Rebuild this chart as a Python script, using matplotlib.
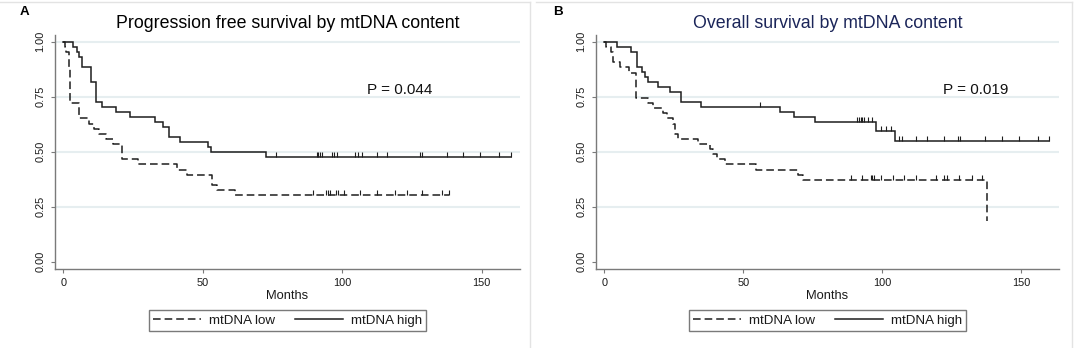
import numpy as np
import matplotlib
matplotlib.use('Agg')
import matplotlib.pyplot as plt
from matplotlib.path import Path
from matplotlib.lines import Line2D

plt.rcParams['font.family'] = ['Liberation Sans', 'DejaVu Sans']

# ---------------- data ----------------
pfs_high_t = [0, 3.6, 4.8, 5.6, 6.6, 9.8, 11.7, 13.8, 18.9, 24.0, 32.9, 35.9, 37.9, 42.0, 51.8, 53.0, 72.7]
pfs_high_s = [1.0, 0.977, 0.955, 0.932, 0.886, 0.818, 0.727, 0.705, 0.682, 0.659, 0.636, 0.614, 0.568, 0.545, 0.523, 0.500, 0.477]
pfs_high_end = 160.5
pfs_high_cens = [76.1, 90.8, 91.4, 92.0, 92.6, 96.2, 97.1, 98.0, 104.6, 105.8, 107.0, 112.4, 116.0,
                 127.9, 128.5, 137.5, 143.4, 149.4, 156.3, 160.5]

pfs_low_t = [0, 0.5, 1.0, 2.0, 2.5, 5.6, 9.3, 11.0, 12.9, 15.3, 17.9, 20.9, 26.9, 40.6, 44.2, 53.4, 55.0, 61.5]
pfs_low_s = [1.0, 0.977, 0.953, 0.884, 0.721, 0.651, 0.628, 0.605, 0.581, 0.558, 0.535, 0.465, 0.442,
             0.419, 0.395, 0.349, 0.326, 0.302]
pfs_low_end = 138.4
pfs_low_cens = [89.6, 94.2, 94.8, 95.6, 97.8, 98.4, 100.5, 106.4, 112.6, 118.8, 123.1, 128.8, 135.8, 138.4]

os_high_t = [0, 4.7, 9.6, 11.6, 13.4, 14.6, 15.6, 19.4, 23.7, 27.5, 34.7, 63.4, 68.4, 75.8, 97.7, 104.6]
os_high_s = [1.0, 0.977, 0.955, 0.886, 0.864, 0.841, 0.818, 0.795, 0.773, 0.727, 0.705, 0.682, 0.659,
             0.636, 0.596, 0.547]
os_high_end = 160.1
os_high_cens = [56.2, 91.0, 91.6, 92.2, 92.8, 93.4, 95.0, 96.2, 99.5, 101.3, 103.1, 106.0, 107.0, 112.0,
                116.2, 122.2, 127.4, 128.1, 137.1, 143.1, 149.1, 156.2, 160.1]

os_low_t = [0, 0.5, 2.5, 3.2, 5.6, 8.8, 11.5, 15.8, 17.6, 21.2, 22.4, 24.7, 25.4, 26.5, 33.7, 37.9, 39.1,
            40.5, 43.3, 54.6, 69.6, 71.4, 137.6]
os_low_s = [1.0, 0.977, 0.953, 0.907, 0.884, 0.860, 0.744, 0.721, 0.698, 0.674, 0.651, 0.628, 0.581, 0.558,
            0.535, 0.512, 0.488, 0.465, 0.442, 0.419, 0.395, 0.372, 0.186]
os_low_end = 137.6
os_low_cens = [88.7, 92.9, 95.9, 96.5, 97.1, 99.5, 103.8, 107.8, 112.0, 119.2, 122.2, 123.4, 127.5, 132.3, 135.9]

x_ticks = [0, 50, 100, 150]
y_ticks = [0.0, 0.25, 0.5, 0.75, 1.0]
series_labels = ['mtDNA low', 'mtDNA high']
titles = ['Progression free survival by mtDNA content', 'Overall survival by mtDNA content']
p_texts = ['P = 0.044', 'P = 0.019']
p_pos = [(120.7, 0.78), (133.7, 0.78)]
panel_letters = ['A', 'B']
xlabel = 'Months'

# ---------------- style ----------------
W, H = 1074, 348
fig = plt.figure(figsize=(W / 100, H / 100), dpi=100)

LINE_C = '#1e1e1e'
SPINE_C = '#7a7a7a'
GRID_C = '#e6eef0'
DASH = (0, (5, 2.6))
LW = 1.1

tick_up = Path([(0, 0), (0, 1)], [Path.MOVETO, Path.LINETO])


def px_axes(l, r, t, b):
    return [l / W, 1 - b / H, (r - l) / W, (b - t) / H]


def km(ax, t, s, end, cens, ls):
    x = list(t) + [end]
    y = list(s) + [s[-1]]
    ax.plot(x, y, drawstyle='steps-post', color=LINE_C, lw=LW, linestyle=ls,
            solid_joinstyle='miter', zorder=3)
    idx = np.searchsorted(np.array(t), np.array(cens), side='right') - 1
    cy = np.array(s)[idx]
    ax.plot(cens, cy, linestyle='none', marker=tick_up, markersize=7, markeredgewidth=0.8,
            color=LINE_C, zorder=3)


panels = [
    dict(rect=(55, 519.5), curves=[(pfs_low_t, pfs_low_s, pfs_low_end, pfs_low_cens, DASH),
                                   (pfs_high_t, pfs_high_s, pfs_high_end, pfs_high_cens, '-')],
         title_c='black', letter_x=24),
    dict(rect=(596, 1059), curves=[(os_low_t, os_low_s, os_low_end, os_low_cens, DASH),
                                   (os_high_t, os_high_s, os_high_end, os_high_cens, '-')],
         title_c='#1b2559', letter_x=558),
]

for i, p in enumerate(panels):
    l, r = p['rect']
    ax = fig.add_axes(px_axes(l, r, 35, 268.7))
    ax.set_xlim(-2.98, 163.6)
    ax.set_ylim(-0.032, 1.0305)
    for yv in y_ticks[1:]:
        ax.axhline(yv, color=GRID_C, lw=1.5, zorder=1)
    for (t, s, end, cens, ls) in p['curves']:
        km(ax, t, s, end, cens, ls)
    for sp in ['top', 'right']:
        ax.spines[sp].set_visible(False)
    for sp in ['left', 'bottom']:
        ax.spines[sp].set_color(SPINE_C)
        ax.spines[sp].set_linewidth(1.0)
    ax.set_xticks(x_ticks)
    ax.set_xticklabels([str(v) for v in x_ticks])
    ax.set_yticks(y_ticks)
    ax.set_yticklabels([f'{v:.2f}' for v in y_ticks], rotation=90, va='center')
    ax.tick_params(axis='both', direction='out', length=3, width=0.8, color=SPINE_C,
                   labelsize=7.9, labelcolor='#1a1a1a', pad=4)
    ax.set_xlabel(xlabel, fontsize=9.3, color='#1a1a1a', labelpad=1)
    ax.text(p_pos[i][0], p_pos[i][1], p_texts[i], ha='center', va='center', fontsize=11,
            color='#111111')
    cx = (l + r) / 2
    fig.text(cx / W, 1 - 23.3 / H, titles[i], ha='center', va='center', fontsize=12.8,
             color=p['title_c'])
    fig.text(p['letter_x'] / W, 1 - 12 / H, panel_letters[i], ha='center', va='center',
             fontsize=9.6, fontweight='bold', color='black')
    handles = [Line2D([], [], color=LINE_C, lw=LW, linestyle=DASH),
               Line2D([], [], color=LINE_C, lw=LW, linestyle='-')]
    leg = fig.legend(handles, series_labels, ncol=2, loc='center',
                     bbox_to_anchor=(cx / W, 1 - 320.5 / H), fontsize=9.6, frameon=True,
                     fancybox=False, edgecolor=SPINE_C, framealpha=1, handlelength=3.6,
                     handletextpad=0.6, columnspacing=1.5, borderpad=0.3, borderaxespad=0)
    leg.get_frame().set_linewidth(1.0)
    for txt in leg.get_texts():
        txt.set_color('#1a1a1a')

# faint panel frames
frame_c = '#e3e3e3'
for (x0, x1) in [(0, 529.5), (536, 1072)]:
    fig.add_artist(Line2D([x0 / W, x1 / W], [1 - 2 / H, 1 - 2 / H], transform=fig.transFigure,
                          color=frame_c, lw=1))
    fig.add_artist(Line2D([x1 / W, x1 / W], [1 - 2 / H, 0], transform=fig.transFigure,
                          color=frame_c, lw=1))

fig.savefig('out.png', dpi=100)
